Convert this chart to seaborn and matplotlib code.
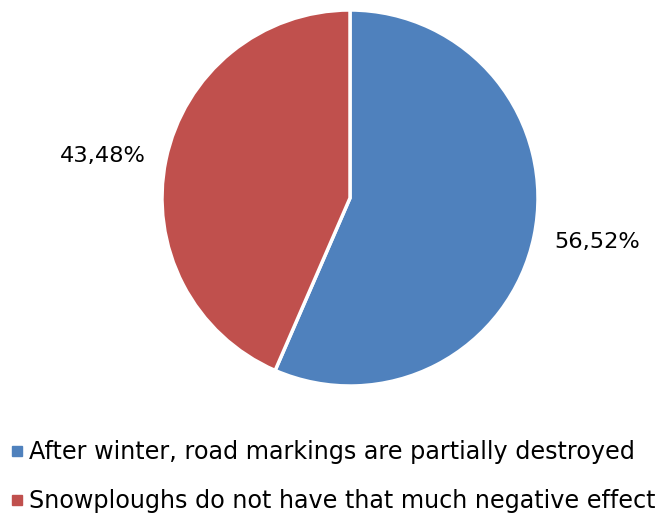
import matplotlib
matplotlib.use("Agg")
import numpy as np
import matplotlib.pyplot as plt
from matplotlib.lines import Line2D
import seaborn as sns

# Survey answers and their shares (percent)
categories = [
    "After winter, road markings are partially destroyed",
    "Snowploughs do not have that much negative effect",
]
shares = [56.52, 43.48]
colors = ["#4F81BD", "#C0504D"]

sns.set_theme(style="white")
plt.rcParams["font.family"] = ["DejaVu Sans"]
plt.rcParams["text.color"] = "black"

W, H = 665, 519
fig = plt.figure(figsize=(W / 100, H / 100), dpi=100)

# Pie centre and radius in pixels
cx, cy, r = 350, 198, 188
ax = fig.add_axes([(cx - r) / W, (H - cy - r) / H, 2 * r / W, 2 * r / H])

def fmt(p):
    return f"{p:.2f}".replace(".", ",") + "%"

wedges, _, autotexts = ax.pie(
    shares,
    colors=colors,
    startangle=90,
    counterclock=False,
    autopct=fmt,
    pctdistance=1.33,
    wedgeprops=dict(edgecolor="white", linewidth=2.5),
    textprops=dict(fontsize=16.2, color="black"),
)

# Place the percentage labels just outside each wedge, nudged slightly
# counter-clockwise from the wedge centre
for w, t in zip(wedges, autotexts):
    mid = np.deg2rad((w.theta1 + w.theta2) / 2 + 1.8)
    t.set_position((1.335 * np.cos(mid), 1.335 * np.sin(mid) - 0.005))

ax.set_xlim(-1, 1)
ax.set_ylim(-1, 1)
ax.set_aspect("equal")
ax.axis("off")

handles = [
    Line2D([], [], marker="s", linestyle="", markersize=6.5, color=c)
    for c in colors
]
leg = fig.legend(
    handles,
    categories,
    loc="upper left",
    bbox_to_anchor=(3 / W, 1 - 433 / H),
    frameon=False,
    fontsize=17.2,
    handlelength=0.6,
    handletextpad=0.2,
    labelspacing=1.05,
    borderaxespad=0,
    borderpad=0.3,
)
for t in leg.get_texts():
    t.set_color("black")

fig.savefig("out.png", dpi=100)
